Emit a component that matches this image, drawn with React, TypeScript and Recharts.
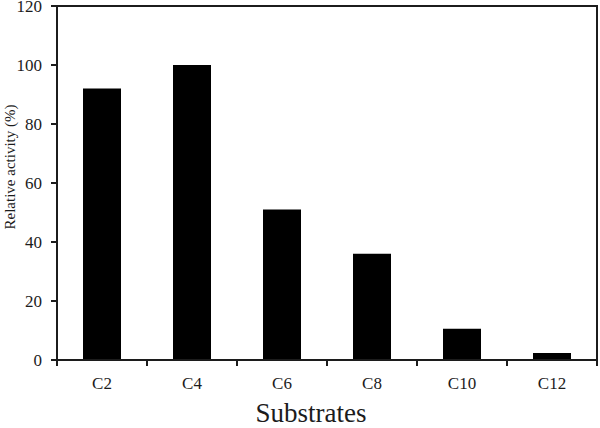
import { BarChart, Bar, XAxis, YAxis } from "recharts";

const substrates = ["C2", "C4", "C6", "C8", "C10", "C12"];
const activity = [92, 100, 51, 36, 10.6, 2.4];
const yTicks = [0, 20, 40, 60, 80, 100, 120];

const data = substrates.map((name, i) => ({ name, value: activity[i] }));

const font = "'Liberation Serif', 'Times New Roman', serif";
const ink = "#1c1c1c";
const TICK = 6;
const GAP = 11;

// category labels plus tick marks on the band boundaries
function BandTick(props: any) {
  const { x, y, payload, index, visibleTicksCount } = props;
  const half = payload.offset || 0;
  const axisY = y - TICK - GAP;
  const last = index === visibleTicksCount - 1;
  return (
    <g>
      <line x1={x - half} x2={x - half} y1={axisY} y2={axisY + TICK} stroke={ink} strokeWidth={2} />
      {last && <line x1={x + half} x2={x + half} y1={axisY} y2={axisY + TICK} stroke={ink} strokeWidth={2} />}
      <text x={x} y={y} dy="0.71em" textAnchor="middle" fontSize={17} fontFamily={font} fill={ink}>
        {payload.value}
      </text>
    </g>
  );
}

export default function App() {
  return (
    <div style={{ position: "absolute", left: 0, top: 0, width: 600, height: 428, background: "#fff", fontFamily: font, color: ink }}>
      <BarChart width={600} height={428} data={data} margin={{ top: 6, right: 3, bottom: 0, left: 0 }}>
        <XAxis
          dataKey="name"
          height={68}
          interval={0}
          axisLine={{ stroke: ink, strokeWidth: 2 }}
          tickLine={false}
          tickSize={TICK}
          tickMargin={GAP}
          tick={<BandTick />}
        />
        <YAxis
          width={57}
          domain={[0, 120]}
          ticks={yTicks}
          interval={0}
          axisLine={{ stroke: ink, strokeWidth: 2 }}
          tickLine={{ stroke: ink, strokeWidth: 2 }}
          tickSize={TICK}
          tickMargin={9}
          tick={{ fill: ink, fontSize: 17, fontFamily: font }}
        />
        <Bar dataKey="value" fill="#000" barSize={38} isAnimationActive={false} />
      </BarChart>
      {/* top and right edges of the plot frame */}
      <div
        style={{
          position: "absolute",
          left: 56,
          top: 5,
          width: 542,
          height: 355,
          boxSizing: "border-box",
          borderTop: `2px solid ${ink}`,
          borderRight: `2px solid ${ink}`,
          pointerEvents: "none",
        }}
      />
      <div
        style={{
          position: "absolute",
          left: 211,
          top: 400,
          width: 200,
          textAlign: "center",
          fontSize: 27,
          lineHeight: "27px",
        }}
      >
        Substrates
      </div>
      <div
        style={{
          position: "absolute",
          left: -90,
          top: 159,
          width: 200,
          height: 16,
          textAlign: "center",
          fontSize: 15,
          lineHeight: "16px",
          whiteSpace: "nowrap",
          transform: "rotate(-90deg)",
          transformOrigin: "center",
        }}
      >
        Relative activity (%)
      </div>
    </div>
  );
}
